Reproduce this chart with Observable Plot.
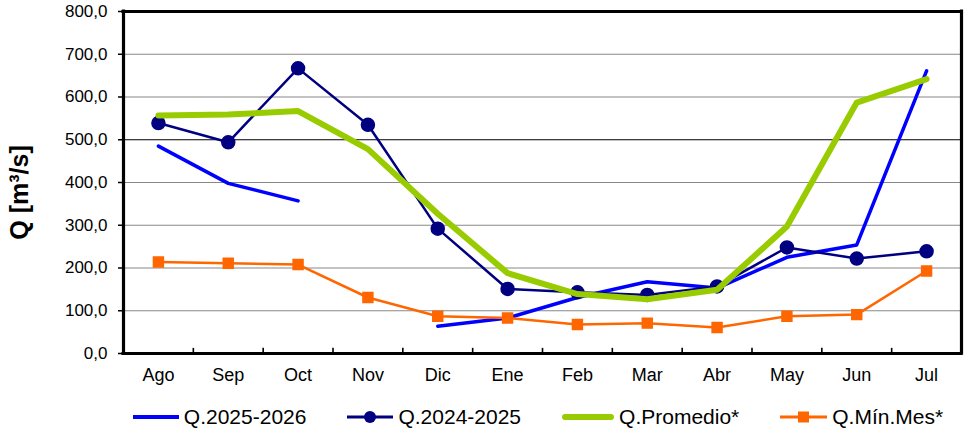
<!DOCTYPE html>
<html>
<head>
<meta charset="utf-8">
<script src="https://cdn.jsdelivr.net/npm/d3@7"></script>
<script src="https://cdn.jsdelivr.net/npm/@observablehq/plot@0.6"></script>
<style>
  html, body { margin: 0; padding: 0; background: #fff; }
  body { width: 966px; height: 434px; overflow: hidden; font-family: "Liberation Sans", Arial, sans-serif; }
  #legend { display: flex; align-items: center; justify-content: center; height: 39px;
            padding-left: 115px; padding-right: 5px; box-sizing: border-box; width: 966px;
            font-size: 21px; color: #000; gap: 41px; margin-top: 2px; }
  .item { display: flex; align-items: center; gap: 5px; }
  svg .frame-line line { stroke-width: 3.2px; stroke: #000; }
</style>
</head>
<body>
<div id="chart"></div>
<div id="legend"></div>
<script>
const months = ["Ago","Sep","Oct","Nov","Dic","Ene","Feb","Mar","Abr","May","Jun","Jul"];
const yTicks = [0,100,200,300,400,500,600,700,800];
const q2025_2026 = [485, 398, 357, null, 64, 83, 131, 168, 153, 225, 254, 661];
const q2024_2025 = [539, 494, 667, 535, 292, 151, 143, 137, 157, 248, 222, 239];
const qPromedio  = [557, 559, 567, 478, 327, 188, 139, 127, 149, 297, 587, 642];
const qMinMes    = [214, 211, 208, 131, 87, 83, 68, 71, 61, 87, 91, 193];

const seriesNames = ["Q.2025-2026","Q.2024-2025","Q.Promedio*","Q.Mín.Mes*"];
const seriesColors = ["#0000FF","#000080","#99CC00","#FF6600"];

const toRows = (arr) => arr.map((v, i) => ({i, v})).filter(d => d.v != null);
const r1 = q2025_2026.map((v, i) => ({i, v}));
const r2 = toRows(q2024_2025);
const r3 = toRows(qPromedio);
const r4 = toRows(qMinMes);
const idx = months.map((m, i) => i);
const bounds = idx.slice(0, -1).map(i => i + 0.5);
const fmt = d => d.toFixed(1).replace(".", ",");

const plot = Plot.plot({
  width: 966,
  height: 395,
  marginTop: 11,
  marginBottom: 42,
  marginLeft: 123,
  marginRight: 5,
  style: {fontFamily: "Liberation Sans, Arial, sans-serif", background: "#fff", color: "#000"},
  x: {domain: [-0.5, 11.5]},
  y: {domain: [0, 800]},
  marks: [
    Plot.ruleY(yTicks.filter(t => t > 0 && t < 800 && t !== 500), {stroke: "#888", strokeWidth: 1.2}),
    Plot.ruleY([500], {stroke: "#000", strokeWidth: 1.2}),
    Plot.ruleX(bounds, {y1: 0, y2: 12, stroke: "#000", strokeWidth: 1.6}),
    Plot.axisY({ticks: yTicks, tickFormat: fmt, tickSize: 5, tickPadding: 11, fontSize: 17, label: null, strokeWidth: 1.5}),
    Plot.axisX({ticks: idx, tickFormat: i => months[i], tickSize: 0, tickPadding: 15, fontSize: 18, label: null}),
    Plot.text(["Q [m³/s]"], {frameAnchor: "left", textAnchor: "middle", dx: -104, dy: 10, rotate: -90, fontSize: 25, fontWeight: "bold", fill: "#000"}),
    Plot.line(r1, {x: "i", y: "v", stroke: seriesColors[0], strokeWidth: 3.5, defined: d => d.v != null}),
    Plot.line(r2, {x: "i", y: "v", stroke: seriesColors[1], strokeWidth: 2.5}),
    Plot.dot(r2, {x: "i", y: "v", r: 6.5, fill: seriesColors[1], stroke: seriesColors[1]}),
    Plot.line(r3, {x: "i", y: "v", stroke: seriesColors[2], strokeWidth: 6, strokeLinejoin: "round"}),
    Plot.line(r4, {x: "i", y: "v", stroke: seriesColors[3], strokeWidth: 2.5}),
    Plot.dot(r4, {x: "i", y: "v", symbol: "square", r: 5.6, fill: seriesColors[3], stroke: seriesColors[3]}),
    Plot.ruleY([0, 800], {stroke: "#000", strokeWidth: 3.2, className: "frame-line", strokeLinecap: "square"}),
    Plot.ruleX([-0.5, 11.5], {stroke: "#000", strokeWidth: 3.2, className: "frame-line", strokeLinecap: "square"})
  ]
});
document.getElementById("chart").appendChild(plot);

const legend = document.getElementById("legend");
const swatches = [
  `<svg width="46" height="14"><line x1="0" y1="7" x2="46" y2="7" stroke="${seriesColors[0]}" stroke-width="4"/></svg>`,
  `<svg width="46" height="14"><line x1="0" y1="7" x2="46" y2="7" stroke="${seriesColors[1]}" stroke-width="3"/><circle cx="23" cy="7" r="6" fill="${seriesColors[1]}"/></svg>`,
  `<svg width="52" height="14"><line x1="3" y1="7" x2="49" y2="7" stroke="${seriesColors[2]}" stroke-width="6" stroke-linecap="round"/></svg>`,
  `<svg width="47" height="14"><line x1="0" y1="7" x2="47" y2="7" stroke="${seriesColors[3]}" stroke-width="3"/><rect x="18" y="1.5" width="11" height="11" fill="${seriesColors[3]}"/></svg>`
];
seriesNames.forEach((n, k) => {
  const d = document.createElement("div");
  d.className = "item";
  d.innerHTML = swatches[k] + `<span>${n}</span>`;
  legend.appendChild(d);
});
</script>
</body>
</html>
